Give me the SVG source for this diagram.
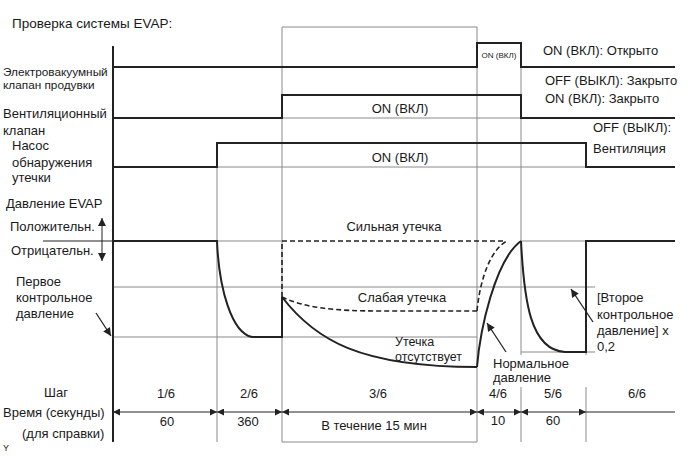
<svg xmlns="http://www.w3.org/2000/svg" width="690" height="465" viewBox="0 0 690 465">
<style>
text{font-family:"Liberation Sans",Arial,sans-serif;font-size:13px;fill:#1a1a1a}
.s{font-size:11.8px}
.t{font-size:8px}
.n{font-size:12.5px}
.m{text-anchor:middle}
.sig{fill:none;stroke:#222;stroke-width:2}
.g{fill:none;stroke:#8a8a8a;stroke-width:1}
.thin{fill:none;stroke:#222;stroke-width:1}
.d{fill:none;stroke:#222;stroke-width:1.6;stroke-dasharray:5 3}
.arr{fill:none;stroke:#222;stroke-width:1.3}
</style>
<defs>
<marker id="ah" viewBox="0 0 10 10" refX="10" refY="5" markerWidth="9" markerHeight="7" markerUnits="userSpaceOnUse" orient="auto-start-reverse"><path d="M0,0 L10,5 L0,10 z" fill="#222"/></marker>
<marker id="ab" viewBox="0 0 10 10" refX="10" refY="5" markerWidth="10" markerHeight="8" markerUnits="userSpaceOnUse" orient="auto"><path d="M0,0 L10,5 L0,10 z" fill="#222"/></marker>
</defs>

<text x="12" y="28" style="font-size:13.5px">Проверка системы EVAP:</text>

<g id="grid">
<path class="g" d="M282,442 V27 H477 V442 H282"/>
<path class="g" d="M217,143 V442"/>
<path class="g" d="M521,43 V355 M521,387 V442"/>
<path class="g" d="M586,143 V167 M586,352 V355 M586,387 V442"/>
<path class="g" d="M282,118 H521 M217,167 H586"/>
<path class="g" d="M217,241 H282 M521,241 H586"/>
<path class="g" d="M113,287 H595 M113,337 H477 M521,352 H595"/>
</g>

<g id="axis">
<path class="sig" d="M113,46 V442"/>
<path class="thin" d="M43,241 H113"/>
<line class="thin" x1="102" y1="241" x2="102" y2="218" marker-end="url(#ab)"/>
<line class="thin" x1="102" y1="241" x2="102" y2="261" marker-end="url(#ab)"/>
</g>

<g id="purge-valve">
<text class="s" x="3" y="76">Электровакуумный</text>
<text class="s" x="3" y="89">клапан продувки</text>
<path class="sig" d="M113,67 H477 V43 H521 V67 H675"/>
<text class="t m" x="499" y="58">ON (ВКЛ)</text>
<text x="543" y="55">ON (ВКЛ): Открыто</text>
<text x="545" y="85">OFF (ВЫКЛ): Закрыто</text>
</g>

<g id="vent-valve">
<text x="3" y="118">Вентиляционный</text>
<text x="3" y="135">клапан</text>
<path class="sig" d="M113,118 H282 V95 H521 V118 H675"/>
<text class="m" x="400" y="113">ON (ВКЛ)</text>
<text x="545" y="103">ON (ВКЛ): Закрыто</text>
</g>

<g id="pump">
<text x="12" y="150">Насос</text>
<text x="12" y="167">обнаружения</text>
<text x="12" y="182">утечки</text>
<path class="sig" d="M113,167 H217 V143 H586 V167 H675"/>
<text class="m" x="400" y="162">ON (ВКЛ)</text>
<text x="593" y="132">OFF (ВЫКЛ):</text>
<text x="593" y="153">Вентиляция</text>
</g>

<g id="pressure">
<text x="6" y="208">Давление EVAP</text>
<text x="10" y="231">Положительн.</text>
<text x="11" y="255">Отрицательн.</text>
<text x="16" y="286">Первое</text>
<text x="16" y="302">контрольное</text>
<text x="16" y="318">давление</text>
<path class="sig" d="M113,241 H217 C219,290 232,333 252,337 H282 V297"/>
<path class="d" d="M282,297 V241 H506"/>
<path class="d" d="M282,297 C305,308 335,311 380,311 H477"/>
<path class="d" d="M477,311 C480,280 490,250 507,241"/>
<path class="sig" d="M282,297 C315,340 360,367 477,367"/>
<path class="sig" d="M477,367 C480,330 495,260 521,241"/>
<path class="sig" d="M521,241 C524,300 530,350 565,352 H586 V241 H675"/>
<text class="m" x="394" y="231">Сильная утечка</text>
<text class="m" x="402" y="302">Слабая утечка</text>
<text class="n" x="395" y="346">Утечка</text>
<text class="n" x="395" y="360.5">отсутствует</text>
<text x="493" y="368">Нормальное</text>
<text x="493" y="382">давление</text>
<text x="597" y="302">[Второе</text>
<text x="597" y="319">контрольное</text>
<text x="597" y="335">давление] x</text>
<text x="597" y="351">0,2</text>
</g>

<g id="connectors">
<line class="arr" x1="96" y1="313" x2="111" y2="336" marker-end="url(#ab)"/>
<line class="arr" x1="506" y1="352" x2="487" y2="323" marker-end="url(#ab)"/>
<line class="arr" x1="593" y1="322" x2="571" y2="289" marker-end="url(#ab)"/>
</g>

<g id="steps">
<text class="m" x="56" y="397">Шаг</text>
<text x="3" y="417">Время (секунды)</text>
<text x="22" y="438">(для справки)</text>
<text x="3" y="451" style="font-size:9px">Y</text>
<line class="thin" x1="113" y1="412" x2="217" y2="412" marker-start="url(#ah)" marker-end="url(#ah)"/>
<line class="thin" x1="217" y1="412" x2="282" y2="412" marker-start="url(#ah)" marker-end="url(#ah)"/>
<line class="thin" x1="282" y1="412" x2="477" y2="412" marker-start="url(#ah)" marker-end="url(#ah)"/>
<line class="thin" x1="477" y1="412" x2="521" y2="412" marker-start="url(#ah)" marker-end="url(#ah)"/>
<line class="thin" x1="521" y1="412" x2="586" y2="412" marker-start="url(#ah)" marker-end="url(#ah)"/>
<line class="thin" x1="586" y1="412" x2="675" y2="412"/>
<text class="m" x="166" y="398">1/6</text>
<text class="m" x="249" y="398">2/6</text>
<text class="m" x="378" y="398">3/6</text>
<text class="m" x="498" y="398">4/6</text>
<text class="m" x="553" y="398">5/6</text>
<text class="m" x="637" y="398">6/6</text>
<text class="m" x="167" y="426">60</text>
<text class="m" x="248" y="426">360</text>
<text class="m" x="374" y="430">В течение 15 мин</text>
<text class="m" x="498" y="425">10</text>
<text class="m" x="553" y="425">60</text>
</g>
</svg>
